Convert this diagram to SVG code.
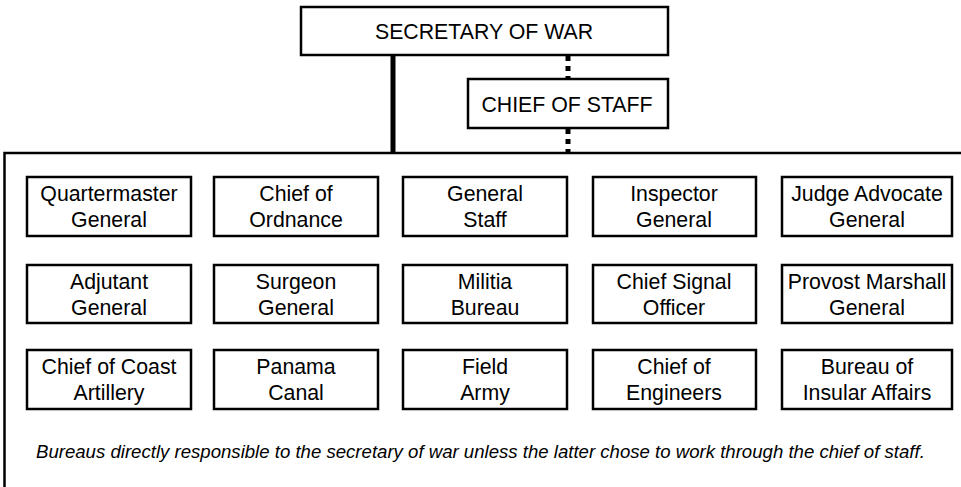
<svg xmlns="http://www.w3.org/2000/svg" width="961" height="487" viewBox="0 0 961 487">
<style>
.box{fill:#fff;stroke:#000;stroke-width:2.5}
.t{font-family:"Liberation Sans",Arial,sans-serif;font-size:21.3px;fill:#000;text-anchor:middle}
.note{font-family:"Liberation Sans",Arial,sans-serif;font-size:18.6px;font-style:italic;fill:#000}
</style>
<rect width="961" height="487" fill="#fff"/>
<g id="connectors" fill="none" stroke="#000">
<line x1="393" y1="55" x2="393" y2="154" stroke-width="5"/>
<line x1="568" y1="56" x2="568" y2="79" stroke-width="5" stroke-dasharray="5,5"/>
<line x1="568" y1="129" x2="568" y2="153" stroke-width="5" stroke-dasharray="5,5"/>
<polyline points="961,153 4.5,153 4.5,487" stroke-width="2.5"/>
</g>
<g id="secretary"><rect class="box" x="301" y="7" width="367" height="48"/><text class="t" x="484" y="39">SECRETARY OF WAR</text></g>
<g id="chief-of-staff"><rect class="box" x="468" y="79" width="200" height="49"/><text class="t" x="567" y="112">CHIEF OF STAFF</text></g>
<g id="quartermaster"><rect class="box" x="27" y="177" width="164" height="59"/><text class="t" x="109" y="201">Quartermaster</text><text class="t" x="109" y="227">General</text></g>
<g id="ordnance"><rect class="box" x="214" y="177" width="164" height="59"/><text class="t" x="296" y="201">Chief of</text><text class="t" x="296" y="227">Ordnance</text></g>
<g id="general-staff"><rect class="box" x="403" y="177" width="164" height="59"/><text class="t" x="485" y="201">General</text><text class="t" x="485" y="227">Staff</text></g>
<g id="inspector"><rect class="box" x="593" y="177" width="163" height="59"/><text class="t" x="674" y="201">Inspector</text><text class="t" x="674" y="227">General</text></g>
<g id="judge-advocate"><rect class="box" x="782" y="177" width="170" height="59"/><text class="t" x="867" y="201">Judge Advocate</text><text class="t" x="867" y="227">General</text></g>
<g id="adjutant"><rect class="box" x="27" y="265" width="164" height="58"/><text class="t" x="109" y="289">Adjutant</text><text class="t" x="109" y="315">General</text></g>
<g id="surgeon"><rect class="box" x="214" y="265" width="164" height="58"/><text class="t" x="296" y="289">Surgeon</text><text class="t" x="296" y="315">General</text></g>
<g id="militia"><rect class="box" x="403" y="265" width="164" height="58"/><text class="t" x="485" y="289">Militia</text><text class="t" x="485" y="315">Bureau</text></g>
<g id="signal"><rect class="box" x="593" y="265" width="163" height="58"/><text class="t" x="674" y="289">Chief Signal</text><text class="t" x="674" y="315">Officer</text></g>
<g id="provost"><rect class="box" x="782" y="265" width="170" height="58"/><text class="t" x="867" y="289">Provost Marshall</text><text class="t" x="867" y="315">General</text></g>
<g id="coast-artillery"><rect class="box" x="27" y="350" width="164" height="59"/><text class="t" x="109" y="374">Chief of Coast</text><text class="t" x="109" y="400">Artillery</text></g>
<g id="panama"><rect class="box" x="214" y="350" width="164" height="59"/><text class="t" x="296" y="374">Panama</text><text class="t" x="296" y="400">Canal</text></g>
<g id="field-army"><rect class="box" x="403" y="350" width="164" height="59"/><text class="t" x="485" y="374">Field</text><text class="t" x="485" y="400">Army</text></g>
<g id="engineers"><rect class="box" x="593" y="350" width="163" height="59"/><text class="t" x="674" y="374">Chief of</text><text class="t" x="674" y="400">Engineers</text></g>
<g id="insular"><rect class="box" x="782" y="350" width="170" height="59"/><text class="t" x="867" y="374">Bureau of</text><text class="t" x="867" y="400">Insular Affairs</text></g>
<text class="note" x="36" y="458">Bureaus directly responsible to the secretary of war unless the latter chose to work through the chief of staff.</text>
</svg>
